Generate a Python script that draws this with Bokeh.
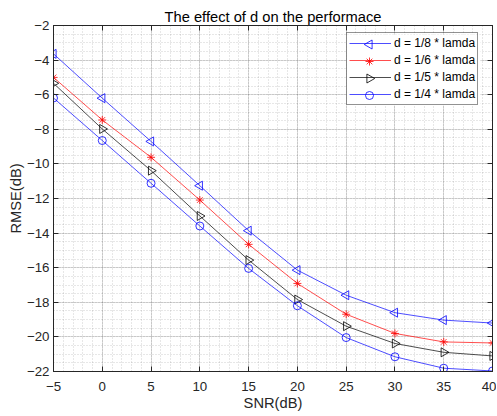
from bokeh.plotting import figure
from bokeh.models import (Range1d, SingleIntervalTicker, LinearAxis, Legend, LegendItem,
                          CustomJSTickFormatter, BoxAnnotation)
from bokeh.embed import file_html
from bokeh.resources import INLINE
import math

snr = [-5, 0, 5, 10, 15, 20, 25, 30, 35, 40]
d_1_8 = [-3.64, -6.2, -8.7, -11.26, -13.86, -16.14, -17.59, -18.6, -19.03, -19.2]
d_1_6 = [-5.0, -7.46, -9.62, -12.09, -14.65, -16.91, -18.69, -19.8, -20.29, -20.35]
d_1_5 = [-5.34, -7.98, -10.39, -13.01, -15.56, -17.84, -19.38, -20.38, -20.89, -21.1]
d_1_4 = [-6.19, -8.65, -11.12, -13.59, -16.04, -18.2, -20.04, -21.15, -21.81, -21.97]
labels = ["d = 1/8 * lamda", "d = 1/6 * lamda", "d = 1/5 * lamda", "d = 1/4 * lamda"]

FONT = "Liberation Sans"
TXT = "#262626"
FW, FH = 439, 346

p = figure(frame_width=FW, frame_height=FH, output_backend="svg", toolbar_location=None,
           x_range=Range1d(-5, 40), y_range=Range1d(-22, -2),
           title="The effect of d on the performace",
           min_border_left=53, min_border_right=4, min_border_top=25, min_border_bottom=44)
p.title.align = "center"
p.title.text_font = FONT
p.title.text_font_size = "14.7px"
p.title.text_font_style = "normal"
p.title.text_color = "black"
p.title.standoff = 1

p.outline_line_color = TXT
p.outline_line_width = 1

xt = SingleIntervalTicker(interval=5, num_minor_ticks=5)
yt = SingleIntervalTicker(interval=2, num_minor_ticks=4)

for ax, t in ((p.xaxis[0], xt), (p.yaxis[0], yt)):
    ax.ticker = t
    ax.major_tick_in = 5
    ax.major_tick_out = 0
    ax.minor_tick_in = 0
    ax.minor_tick_out = 0
    ax.axis_line_color = TXT
    ax.major_tick_line_color = TXT
    ax.major_label_text_font = FONT
    ax.major_label_text_font_size = "13.3px"
    ax.major_label_text_color = TXT
    ax.axis_label_text_font = FONT
    ax.axis_label_text_font_size = "14.7px"
    ax.axis_label_text_font_style = "normal"
    ax.axis_label_text_color = TXT

p.xaxis.axis_label = "SNR(dB)"
p.yaxis.axis_label = "RMSE(dB)"
p.xaxis.major_label_standoff = 10
p.xaxis.axis_label_standoff = 1
p.yaxis.major_label_standoff = 4
p.yaxis.axis_label_standoff = 0

blank = CustomJSTickFormatter(code="return ''")
top = LinearAxis(ticker=xt, major_tick_in=5, major_tick_out=0, minor_tick_in=0, minor_tick_out=0,
                 formatter=blank, axis_line_color=TXT, major_tick_line_color=TXT,
                 major_label_standoff=0)
right = LinearAxis(ticker=yt, major_tick_in=5, major_tick_out=0, minor_tick_in=0, minor_tick_out=0,
                   formatter=blank, axis_line_color=TXT, major_tick_line_color=TXT,
                   major_label_standoff=0)
p.add_layout(top, "above")
p.add_layout(right, "right")

for g in (p.xgrid[0], p.ygrid[0]):
    g.grid_line_color = TXT
    g.grid_line_alpha = 0.16
    g.minor_grid_line_color = TXT
    g.minor_grid_line_alpha = 0.22
    g.minor_grid_line_dash = "1 2"
p.xgrid.ticker = xt
p.ygrid.ticker = yt

# pixel-space ranges for the legend background and marker overlay
p.extra_x_ranges = {"px": Range1d(0, FW)}
p.extra_y_ranges = {"px": Range1d(0, FH)}

# legend layout (frame pixels, from bottom-left)
LG_X, LG_Y, LG_W = 293, 266, 134
LG_PAD, LG_GW, LG_ROW, LG_SP = 2, 42, 16, 1
n_items = 4
lg_top = LG_Y + 2 * LG_PAD + n_items * LG_ROW + (n_items - 1) * LG_SP
mk_x = [LG_X + LG_PAD + LG_GW / 2] * n_items
mk_y = [lg_top - LG_PAD - i * (LG_ROW + LG_SP) - LG_ROW / 2 for i in range(n_items)]

bg = BoxAnnotation(left=LG_X, right=LG_X + LG_W, bottom=LG_Y, top=lg_top,
                   x_range_name="px", y_range_name="px",
                   fill_color="white", fill_alpha=1, line_alpha=0, level="underlay")
p.add_layout(bg)

series = [d_1_8, d_1_6, d_1_5, d_1_4]
colors = ["#0000ff", "#ff0000", "#000000", "#0000ff"]
markers = [("triangle", math.pi / 2, 9), ("asterisk", 0.0, 8),
           ("triangle", -math.pi / 2, 9), ("circle", 0.0, 8)]
items = []
for i, (ys, c, lab, (mk, ang, sz)) in enumerate(zip(series, colors, labels, markers)):
    r1 = p.line(snr, ys, line_color=c, line_width=0.7)
    p.scatter(snr, ys, marker=mk, angle=ang, size=sz,
              fill_color=None, line_color=c, line_width=0.8)
    items.append(LegendItem(label=lab, renderers=[r1]))
    p.scatter([mk_x[i]], [mk_y[i]], marker=mk, angle=ang, size=sz,
              fill_color="white", line_color=c, line_width=0.8,
              x_range_name="px", y_range_name="px")

legend = Legend(items=items, location=(LG_X, LG_Y))
legend.label_text_font = FONT
legend.label_text_font_size = "12px"
legend.label_text_color = "black"
legend.border_line_color = TXT
legend.border_line_width = 1
legend.background_fill_alpha = 0
legend.glyph_width = LG_GW
legend.glyph_height = LG_ROW
legend.label_height = LG_ROW
legend.spacing = LG_SP
legend.padding = LG_PAD
legend.margin = 0
legend.label_standoff = 3
p.add_layout(legend)

open("out.html", "w").write(file_html(p, INLINE))
